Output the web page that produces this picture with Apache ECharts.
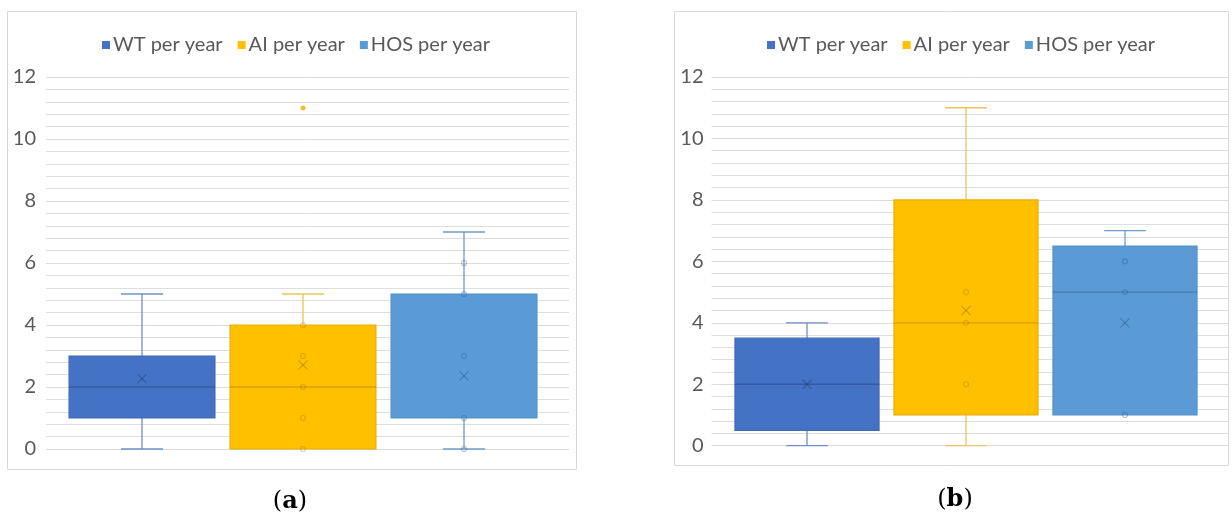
<!DOCTYPE html>
<html>
<head>
<meta charset="utf-8">
<script src="https://cdn.jsdelivr.net/npm/echarts@6/dist/echarts.min.js"></script>
<style>
html,body{margin:0;padding:0;background:#fff;}
#chart{width:1232px;height:519px;}
</style>
</head>
<body>
<div id="chart"></div>
<script>
// ---------- data ----------
const categories = ['WT per year', 'AI per year', 'HOS per year'];
const yTicks = [0, 2, 4, 6, 8, 10, 12];
// panel (a): [min, Q1, median, Q3, max]
const boxA = [[0, 1, 2, 3, 5], [0, 0, 2, 4, 5], [0, 1, 1, 5, 7]];
const meanA = [2.27, 2.71, 2.36];
const pointsA = [[], [0, 1, 2, 3, 4], [0, 1, 3, 5, 6]];
const outliersA = [[], [11], []];
// panel (b)
const boxB = [[0, 0.5, 2, 3.5, 4], [0, 1, 4, 8, 11], [1, 1, 5, 6.5, 7]];
const meanB = [2.0, 4.4, 4.0];
const pointsB = [[], [2, 4, 5], [1, 5, 6]];
const outliersB = [[], [], []];
const captions = ['a', 'b'];

// ---------- styles ----------
const fills = ['#4472C4', '#FFC000', '#5B9BD5'];
const borders = ['#3F69B5', '#E8AE00', '#5490C8'];
const whiskers = ['#6E8FCB', '#E9C45C', '#6F9DCB'];
const darks = ['rgba(40,60,110,0.45)', 'rgba(150,110,0,0.40)', 'rgba(40,80,130,0.45)'];
const FONT = 'Lato';

const chart = echarts.init(document.getElementById('chart'), null, {renderer: 'canvas'});

const panels = [
  {bg: {left: 46, right: 1232 - 569, top: 77, bottom: 519 - 449},
   box: {left: 61.5, width: 483, top: 77, bottom: 519 - 449},
   legendLeft: 97, labelMargin: 10,
   box5: boxA, mean: meanA, pts: pointsA, outs: outliersA},
  {bg: {left: 711.5, right: 4, top: 77, bottom: 519 - 445.7},
   box: {left: 727.5, width: 477, top: 77, bottom: 519 - 445.7},
   legendLeft: 762, labelMargin: 8,
   box5: boxB, mean: meanB, pts: pointsB, outs: outliersB}
];

const grid = [], xAxis = [], yAxis = [], series = [], legend = [];

function renderBox(params, api) {
  const idx = api.value(0);
  const col = api.value(7);
  const vMin = api.value(1), vQ1 = api.value(2), vMed = api.value(3), vQ3 = api.value(4), vMax = api.value(5), vMean = api.value(6);
  const band = api.size([1, 0])[0];
  const bw = band * 0.906, cw = band * 0.262;
  const pMin = api.coord([idx, vMin]);
  const pQ1 = api.coord([idx, vQ1]);
  const pMed = api.coord([idx, vMed]);
  const pQ3 = api.coord([idx, vQ3]);
  const pMax = api.coord([idx, vMax]);
  const pMean = api.coord([idx, vMean]);
  const cx = pQ1[0];
  const wc = whiskers[col], fc = fills[col], bc = borders[col], dc = darks[col];
  const children = [];
  const line = (x1, y1, x2, y2, stroke, w) => ({type: 'line', shape: {x1, y1, x2, y2}, style: {stroke, lineWidth: w}});
  if (vMax > vQ3) {
    children.push(line(cx, pQ3[1], cx, pMax[1], wc, 1.3));
    children.push(line(cx - cw / 2, pMax[1], cx + cw / 2, pMax[1], wc, 1.3));
  }
  if (vMin < vQ1) {
    children.push(line(cx, pQ1[1], cx, pMin[1], wc, 1.3));
    children.push(line(cx - cw / 2, pMin[1], cx + cw / 2, pMin[1], wc, 1.3));
  }
  children.push({type: 'rect', shape: {x: cx - bw / 2, y: pQ3[1], width: bw, height: pQ1[1] - pQ3[1]},
    style: {fill: fc, stroke: bc, lineWidth: 1.2}});
  if (vMed > vQ1 && vMed < vQ3) {
    children.push(line(cx - bw / 2, pMed[1], cx + bw / 2, pMed[1], dc, 1.3));
  }
  const s = 4.5;
  children.push(line(cx - s, pMean[1] - s, cx + s, pMean[1] + s, dc, 1.2));
  children.push(line(cx - s, pMean[1] + s, cx + s, pMean[1] - s, dc, 1.2));
  return {type: 'group', children};
}

panels.forEach((p, pi) => {
  const gBg = pi * 2, gBox = pi * 2 + 1;
  grid.push(Object.assign({containLabel: false}, p.bg));
  grid.push(Object.assign({containLabel: false}, p.box));
  xAxis.push({type: 'value', gridIndex: gBg, min: 0, max: 1, show: false});
  xAxis.push({type: 'category', gridIndex: gBox, data: categories, show: false, boundaryGap: true});
  yAxis.push({
    type: 'value', gridIndex: gBg, min: yTicks[0], max: yTicks[yTicks.length - 1], interval: yTicks[1] - yTicks[0],
    axisLine: {show: false}, axisTick: {show: false},
    axisLabel: {fontFamily: FONT, fontSize: 20, color: '#595959', margin: p.labelMargin},
    splitLine: {show: true, lineStyle: {color: '#DCDCDC', width: 1}},
    minorTick: {show: false, splitNumber: 5},
    minorSplitLine: {show: true, lineStyle: {color: '#DEDEDE', width: 1}}
  });
  yAxis.push({type: 'value', gridIndex: gBox, min: yTicks[0], max: yTicks[yTicks.length - 1], show: false});

  categories.forEach((name, ci) => {
    const b = p.box5[ci];
    series.push({
      type: 'custom', name, xAxisIndex: gBox, yAxisIndex: gBox,
      itemStyle: {color: fills[ci]},
      renderItem: renderBox,
      encode: {x: 0, y: [1, 2, 3, 4, 5]},
      data: [[ci, b[0], b[1], b[2], b[3], b[4], p.mean[ci], ci]],
      z: 2
    });
    if (p.pts[ci].length) {
      series.push({
        type: 'scatter', name, xAxisIndex: gBox, yAxisIndex: gBox,
        symbol: 'circle', symbolSize: 5,
        itemStyle: {color: 'rgba(0,0,0,0)', borderColor: darks[ci], borderWidth: 1.1},
        data: p.pts[ci].map(v => [ci, v]), z: 3, silent: true
      });
    }
    if (p.outs[ci].length) {
      series.push({
        type: 'scatter', name, xAxisIndex: gBox, yAxisIndex: gBox,
        symbol: 'circle', symbolSize: 5,
        itemStyle: {color: borders[ci]},
        data: p.outs[ci].map(v => [ci, v]), z: 3, silent: true
      });
    }
  });

  legend.push({
    left: p.legendLeft, top: 30, icon: 'rect', itemWidth: 8, itemHeight: 8, itemGap: 15,
    selectedMode: false,
    textStyle: {fontFamily: FONT, fontSize: 20, color: '#595959', padding: [0, 0, 0, -2]},
    data: categories.map((n, i) => ({name: n, itemStyle: {color: fills[i]}}))
  });
});

const capRich = {
  p: {fontFamily: 'DejaVu Serif', fontSize: 24, fill: '#000'},
  b: {fontFamily: 'DejaVu Serif', fontWeight: 'bold', fontSize: 24, fill: '#000'}
};
const graphic = [
  {type: 'rect', shape: {x: 7.5, y: 11.5, width: 569, height: 458}, style: {fill: 'none', stroke: '#D9D9D9', lineWidth: 1}, z: -1},
  {type: 'rect', shape: {x: 674.5, y: 11.5, width: 554, height: 454}, style: {fill: 'none', stroke: '#D9D9D9', lineWidth: 1}, z: -1},
  {type: 'text', x: 290, y: 502, style: {text: '{p|(}{b|' + captions[0] + '}{p|)}', align: 'center', verticalAlign: 'middle', rich: capRich}},
  {type: 'text', x: 955, y: 500, style: {text: '{p|(}{b|' + captions[1] + '}{p|)}', align: 'center', verticalAlign: 'middle', rich: capRich}}
];

chart.setOption({
  animation: false,
  backgroundColor: '#fff',
  grid, xAxis, yAxis, series, legend, graphic
});
</script>
</body>
</html>
